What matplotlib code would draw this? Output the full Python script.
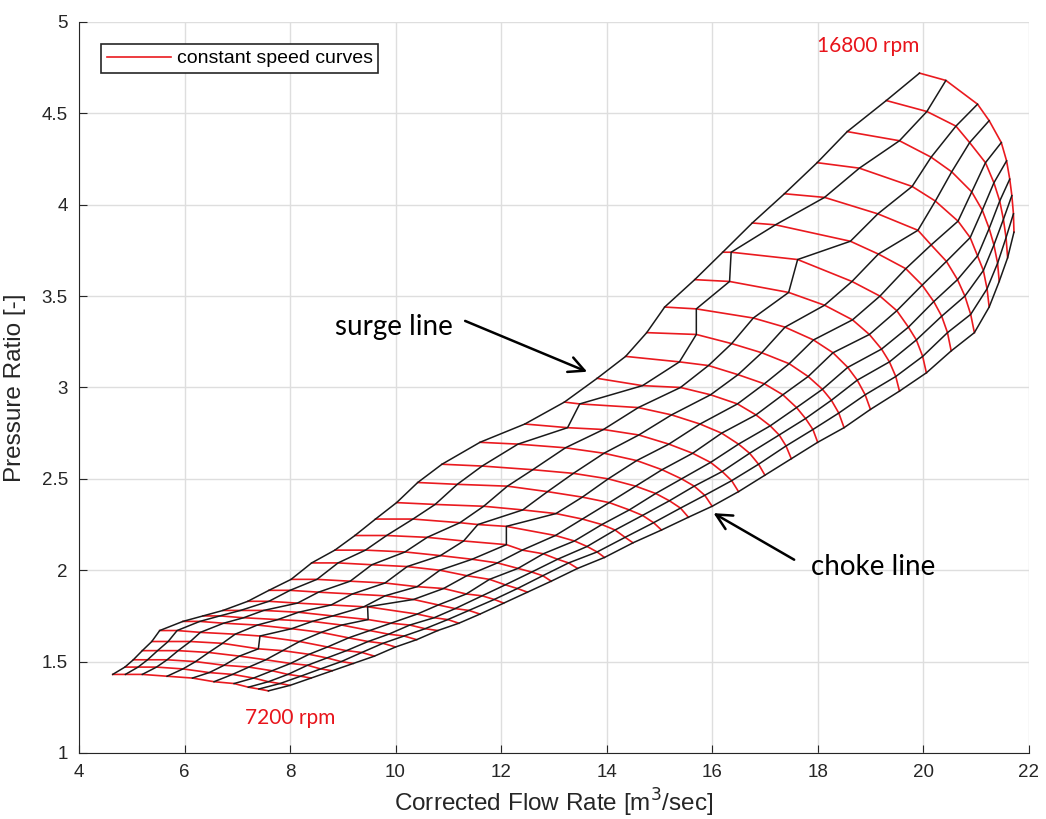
import numpy as np
import matplotlib.pyplot as plt

# speed lines: 34 curves from 7200 rpm (first entry) to 16800 rpm (last entry)
# each list below is one black line of the map, with one point per speed line

surge_x = [4.64, 4.87, 5.03, 5.20, 5.38, 5.53, 5.97, 6.35, 6.73, 7.20, 7.60, 8.02,
           8.41, 8.85, 9.23, 9.62, 10.02, 10.42, 10.88, 11.60, 12.45, 13.20, 13.82,
           14.36, 14.76, 15.10, 15.67, 16.20, 16.76, 17.37, 17.99, 18.56, 19.30, 19.93]
surge_y = [1.43, 1.47, 1.51, 1.56, 1.61, 1.67, 1.72, 1.75, 1.78, 1.83, 1.89, 1.95,
           2.04, 2.11, 2.19, 2.28, 2.37, 2.48, 2.58, 2.70, 2.80, 2.92, 3.05,
           3.17, 3.30, 3.44, 3.59, 3.74, 3.90, 4.06, 4.23, 4.40, 4.57, 4.72]

b1_x = [4.88, 5.12, 5.30, 5.49, 5.69, 5.86, 6.29, 6.67, 7.06, 7.60, 8.00, 8.51,
        8.91, 9.43, 9.83, 10.33, 10.75, 11.17, 11.64, 12.32, 13.26, 13.49, 14.68,
        15.38, 15.70, 15.70, 16.33, 16.36, 17.20, 18.13, 18.79, 19.55, 20.07, 20.43]
b1_y = [1.43, 1.47, 1.51, 1.56, 1.61, 1.67, 1.72, 1.75, 1.78, 1.83, 1.89, 1.95,
        2.04, 2.11, 2.19, 2.28, 2.36, 2.47, 2.57, 2.69, 2.78, 2.91, 3.01,
        3.14, 3.29, 3.43, 3.58, 3.74, 3.89, 4.04, 4.20, 4.35, 4.51, 4.68]

b2_x = [5.20, 5.47, 5.67, 5.88, 6.11, 6.30, 6.74, 7.12, 7.50, 8.14, 8.54, 9.14,
        9.55, 10.18, 10.60, 11.22, 11.67, 12.12, 12.60, 13.22, 13.94, 14.60, 15.40,
        15.93, 16.37, 16.78, 17.45, 17.62, 18.62, 19.14, 19.79, 20.15, 20.62, 21.03]
b2_y = [1.43, 1.47, 1.51, 1.56, 1.61, 1.66, 1.71, 1.74, 1.78, 1.82, 1.88, 1.94,
        2.03, 2.10, 2.18, 2.26, 2.35, 2.46, 2.55, 2.67, 2.77, 2.89, 3.00,
        3.12, 3.24, 3.38, 3.52, 3.70, 3.80, 3.95, 4.10, 4.26, 4.43, 4.55]

b3_x = [5.67, 5.97, 6.21, 6.46, 6.72, 6.96, 7.38, 7.77, 8.16, 8.78, 9.18, 9.80,
        10.22, 10.85, 11.29, 11.56, 12.41, 12.88, 13.37, 13.95, 14.61, 15.23, 15.97,
        16.49, 16.94, 17.38, 18.13, 18.65, 19.15, 19.90, 20.23, 20.54, 20.88, 21.25]
b3_y = [1.42, 1.46, 1.50, 1.55, 1.60, 1.65, 1.70, 1.73, 1.77, 1.81, 1.87, 1.93,
        2.02, 2.08, 2.16, 2.25, 2.33, 2.43, 2.53, 2.64, 2.74, 2.85, 2.96,
        3.07, 3.19, 3.33, 3.45, 3.58, 3.73, 3.86, 4.02, 4.18, 4.34, 4.46]

b4_x = [6.15, 6.47, 6.75, 7.04, 7.40, 7.43, 8.03, 8.42, 8.81, 9.40, 9.80, 10.41,
        10.84, 11.45, 12.10, 12.10, 13.04, 13.54, 14.03, 14.57, 15.18, 15.77, 16.48,
        16.99, 17.46, 17.92, 18.66, 19.18, 19.67, 20.15, 20.66, 20.92, 21.18, 21.48]
b4_y = [1.41, 1.44, 1.48, 1.53, 1.57, 1.64, 1.68, 1.72, 1.75, 1.80, 1.86, 1.91,
        2.00, 2.06, 2.14, 2.24, 2.31, 2.40, 2.50, 2.60, 2.69, 2.80, 2.91,
        3.02, 3.13, 3.26, 3.37, 3.50, 3.65, 3.78, 3.91, 4.07, 4.23, 4.34]

b5_x = [6.56, 6.91, 7.22, 7.54, 7.86, 8.18, 8.59, 8.98, 9.48, 9.47, 10.34, 10.91,
        11.35, 11.93, 12.40, 13.03, 13.54, 14.05, 14.55, 15.05, 15.63, 16.18, 16.83,
        17.34, 17.82, 18.29, 18.98, 19.50, 19.98, 20.44, 20.89, 21.12, 21.34, 21.58]
b5_y = [1.39, 1.43, 1.47, 1.51, 1.56, 1.61, 1.66, 1.70, 1.73, 1.80, 1.84, 1.90,
        1.97, 2.04, 2.11, 2.19, 2.28, 2.37, 2.46, 2.55, 2.64, 2.75, 2.85,
        2.96, 3.06, 3.19, 3.29, 3.42, 3.56, 3.69, 3.82, 3.97, 4.12, 4.24]

b6_x = [6.94, 7.31, 7.66, 8.01, 8.36, 8.71, 9.11, 9.51, 9.91, 10.41, 10.81, 11.34,
        11.78, 12.32, 12.80, 13.39, 13.91, 14.43, 14.93, 15.42, 15.97, 16.50, 17.10,
        17.60, 18.09, 18.57, 19.21, 19.72, 20.20, 20.65, 21.03, 21.25, 21.45, 21.64]
b6_y = [1.38, 1.41, 1.45, 1.49, 1.54, 1.58, 1.63, 1.67, 1.71, 1.76, 1.81, 1.87,
        1.95, 2.01, 2.09, 2.16, 2.25, 2.33, 2.42, 2.50, 2.59, 2.69, 2.79,
        2.89, 2.99, 3.11, 3.21, 3.33, 3.47, 3.59, 3.72, 3.87, 4.02, 4.14]

b7_x = [7.21, 7.59, 7.96, 8.33, 8.70, 9.07, 9.48, 9.87, 10.27, 10.73, 11.13, 11.64,
        12.08, 12.58, 13.07, 13.63, 14.16, 14.68, 15.19, 15.66, 16.19, 16.71, 17.27,
        17.77, 18.26, 18.75, 19.36, 19.87, 20.35, 20.79, 21.14, 21.34, 21.52, 21.68]
b7_y = [1.36, 1.39, 1.43, 1.48, 1.52, 1.56, 1.61, 1.65, 1.70, 1.74, 1.79, 1.86,
        1.92, 1.99, 2.06, 2.13, 2.22, 2.30, 2.38, 2.46, 2.54, 2.64, 2.74,
        2.83, 2.93, 3.04, 3.14, 3.26, 3.39, 3.50, 3.64, 3.78, 3.92, 4.05]

b8_x = [7.41, 7.81, 8.20, 8.58, 8.97, 9.36, 9.76, 10.16, 10.56, 10.99, 11.39, 11.87,
        12.31, 12.79, 13.28, 13.82, 14.35, 14.89, 15.40, 15.86, 16.37, 16.88, 17.40,
        17.91, 18.40, 18.90, 19.48, 19.99, 20.46, 20.90, 21.21, 21.41, 21.57, 21.71]
b8_y = [1.35, 1.38, 1.42, 1.46, 1.50, 1.55, 1.60, 1.64, 1.68, 1.73, 1.78, 1.84,
        1.90, 1.97, 2.04, 2.10, 2.18, 2.26, 2.34, 2.41, 2.49, 2.58, 2.68,
        2.77, 2.86, 2.96, 3.06, 3.17, 3.30, 3.40, 3.54, 3.68, 3.82, 3.95]

choke_x = [7.59, 8.00, 8.40, 8.80, 9.20, 9.60, 10.00, 10.40, 10.80, 11.20, 11.60, 12.05,
           12.50, 12.95, 13.45, 13.96, 14.50, 15.04, 15.55, 16.00, 16.50, 17.00, 17.50,
           18.00, 18.50, 19.00, 19.55, 20.06, 20.53, 20.97, 21.25, 21.44, 21.60, 21.72]
choke_y = [1.34, 1.37, 1.41, 1.45, 1.49, 1.53, 1.58, 1.62, 1.67, 1.71, 1.76, 1.82,
           1.88, 1.94, 2.01, 2.07, 2.15, 2.22, 2.29, 2.35, 2.43, 2.52, 2.61,
           2.70, 2.78, 2.88, 2.98, 3.08, 3.20, 3.30, 3.44, 3.58, 3.71, 3.85]

lines_x = np.array([surge_x, b1_x, b2_x, b3_x, b4_x, b5_x, b6_x, b7_x, b8_x, choke_x])
lines_y = np.array([surge_y, b1_y, b2_y, b3_y, b4_y, b5_y, b6_y, b7_y, b8_y, choke_y])

plt.rcParams['font.family'] = ['Liberation Sans', 'DejaVu Sans']
fig = plt.figure(figsize=(10.46, 8.19), dpi=100)
ax = fig.add_axes([0.0755, 0.0806, 0.908, 0.8926])

red = '#ea1a1f'
for k in range(lines_x.shape[1]):
    lab = 'constant speed curves' if k == 0 else None
    ax.plot(lines_x[:, k], lines_y[:, k], color=red, lw=1.2, label=lab, zorder=3)
for j in range(lines_x.shape[0]):
    ax.plot(lines_x[j], lines_y[j], color='#1a1a1a', lw=1.1, zorder=4)

ax.set_xlim(4, 22)
ax.set_ylim(1, 5)
ax.set_xticks(np.arange(4, 23, 2))
ax.set_yticks(np.arange(1, 5.01, 0.5))
ax.set_yticklabels(['1', '1.5', '2', '2.5', '3', '3.5', '4', '4.5', '5'])
ax.grid(True, color='#dedede', lw=1)
ax.set_axisbelow(True)
for s in ['top', 'right']:
    ax.spines[s].set_visible(False)
for s in ['left', 'bottom']:
    ax.spines[s].set_color('#262626')
ax.tick_params(direction='in', length=6, labelsize=13.5, colors='#262626', pad=8)
ax.set_xlabel('Corrected Flow Rate [m$^3$/sec]', fontsize=17.5, color='#262626', va='center')
ax.set_ylabel('Pressure Ratio [-]', fontsize=17.5, color='#262626', va='center')
ax.xaxis.set_label_coords(0.5, -0.068)
ax.yaxis.set_label_coords(-0.067, 0.5)

leg = ax.legend(loc='upper left', fontsize=14, fancybox=False, framealpha=1,
                edgecolor='#262626', handlelength=3.3, handletextpad=0.3, borderpad=0.3,
                borderaxespad=0, bbox_to_anchor=(0.023, 0.970))
leg.get_frame().set_linewidth(1.2)

ax.text(18.96, 4.87, '16800 rpm', color='#e8141b', fontsize=15, fontfamily='Lato', ha='center', va='center')
ax.text(8.0, 1.19, '7200 rpm', color='#e8141b', fontsize=15, fontfamily='Lato', ha='center', va='center')
ax.text(9.97, 3.33, 'surge line', fontsize=20, fontfamily='Lato', ha='center', va='center')
ax.text(19.06, 2.02, 'choke line', fontsize=20, fontfamily='Lato', ha='center', va='center')
ax.annotate('', xy=(13.68, 3.08), xytext=(11.27, 3.37),
            arrowprops=dict(arrowstyle='->', color='black', lw=1.8, mutation_scale=28))
ax.annotate('', xy=(15.98, 2.32), xytext=(17.6, 2.05),
            arrowprops=dict(arrowstyle='->', color='black', lw=1.8, mutation_scale=28))

fig.savefig('out.png', dpi=100)
